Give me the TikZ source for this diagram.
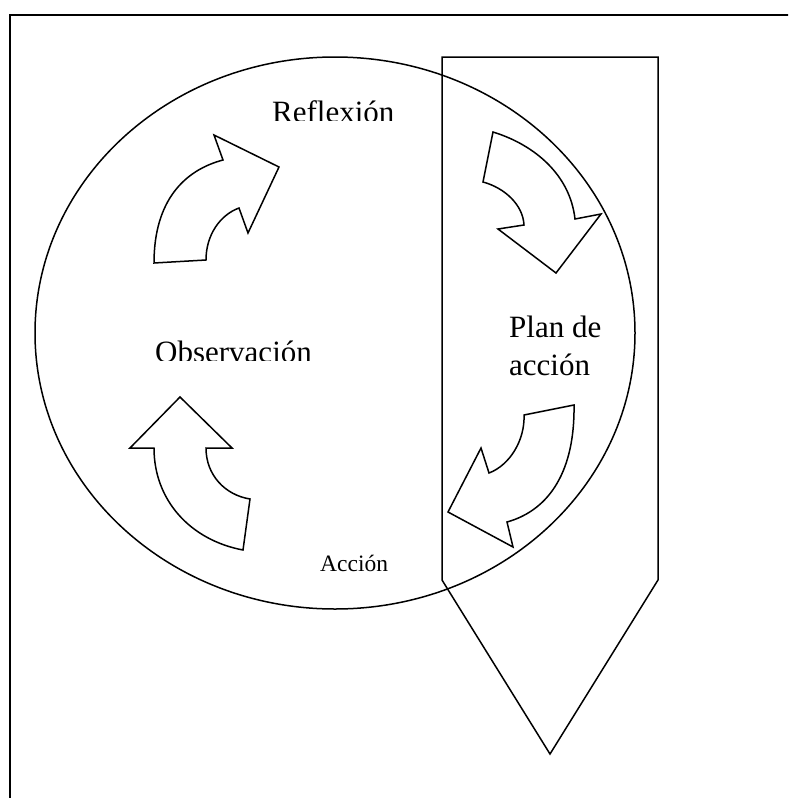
\documentclass[tikz,border=0pt]{standalone}
\usepackage{fontspec}
\setmainfont{Liberation Serif}
\begin{document}
\begin{tikzpicture}[x=1pt,y=-1pt,
  shapeline/.style={draw=black,line width=1.5pt,line join=miter},
  blockarrow/.style={shapeline,fill=white},
  bigtext/.style={inner sep=0pt,anchor=base west,font=\fontsize{31}{38}\selectfont},
  smalltext/.style={inner sep=0pt,anchor=base west,font=\fontsize{23.5}{28}\selectfont}]
\clip (0,0) rectangle (788,798);
\fill[white] (0,0) rectangle (788,798);
% outer frame (extends beyond the page on the right and bottom)
\draw[line width=2pt] (10,820) -- (10,15) -- (820,15);
% circle and pentagon
\draw[shapeline] (335,333) ellipse [x radius=300, y radius=276];
\draw[shapeline] (442,57) -- (658,57) -- (658,580) -- (550,754) -- (442,580) -- cycle;
% curved block arrows
\draw[blockarrow] (154,263) -- (206,260) .. controls (206,235) and (220,215) .. (239,208)
  -- (248,233) -- (279,167) -- (214,135) -- (223,160)
  .. controls (185,170) and (154,200) .. (154,263) -- cycle;
\draw[blockarrow] (493,132) -- (483,182) .. controls (505,188) and (523,205) .. (524,225)
  -- (498,229) -- (556,273) -- (601,214) -- (575,219)
  .. controls (570,175) and (535,145) .. (493,132) -- cycle;
\draw[blockarrow] (574,405) -- (524,415) .. controls (525,440) and (510,465) .. (489,473)
  -- (481,448) -- (448,512) -- (513,547) -- (507,522)
  .. controls (550,510) and (575,470) .. (574,405) -- cycle;
\draw[blockarrow] (180,397) -- (232,448) -- (206,448)
  .. controls (206,475) and (225,495) .. (250,499) -- (243,550)
  .. controls (190,540) and (154,500) .. (154,448) -- (130,448) -- cycle;
% texts (two of them clipped at the bottom, as printed)
\begin{scope}
  \clip (250,80) rectangle (430,120);
  \node[bigtext] (reflexion) at (272,122) {Reflexión};
\end{scope}
\begin{scope}
  \clip (140,320) rectangle (330,360);
  \node[bigtext] (observacion) at (155,362) {Observación};
\end{scope}
\node[bigtext] (plan1) at (509,337) {Plan de};
\node[bigtext] (plan2) at (509,375) {acción};
\node[smalltext] (accion) at (320,571) {Acción};
\end{tikzpicture}
\end{document}
